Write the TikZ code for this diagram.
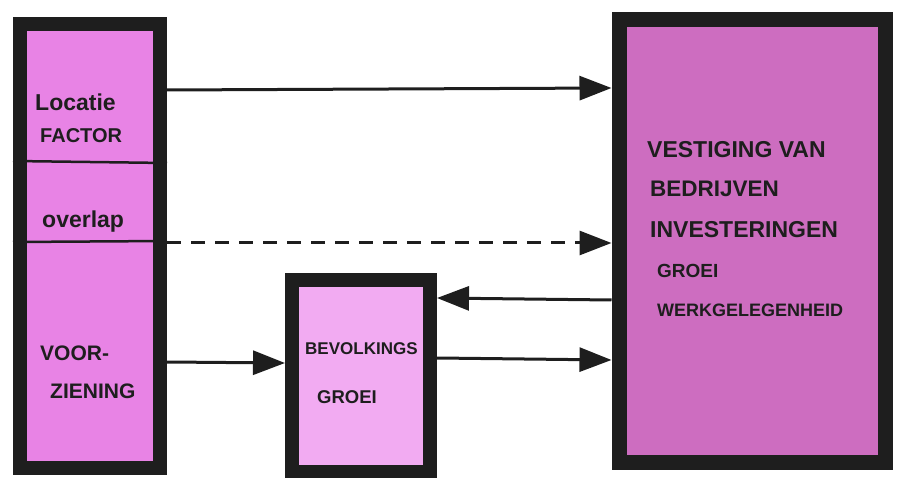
\documentclass[tikz,border=0pt]{standalone}
\usepackage{fontspec}
\setmainfont{Liberation Sans}
\usetikzlibrary{arrows.meta}
\definecolor{Ink}{HTML}{1E1E1E}
\definecolor{Orchid}{HTML}{E883E5}
\definecolor{Blush}{HTML}{F2ABF2}
\definecolor{Plum}{HTML}{CD6DC0}

\begin{document}
\begin{tikzpicture}[x=1pt,y=-1pt,
    box/.style={draw=Ink,line width=14pt,inner sep=0pt},
    lbl/.style={anchor=base west,inner sep=0pt,text=Ink,font=\fontsize{#1}{#1}\selectfont\bfseries},
    lbl/.default=22pt,
    sep/.style={draw=Ink,line width=2.5pt},
    arr/.style={-{Triangle[length=32pt,width=24pt]},line width=3pt,Ink}
  ]
    \useasboundingbox (0,0) rectangle (897,478);
    % the three boxes
    \node[box,fill=Orchid,minimum width=140pt,minimum height=444pt] (lbox) at (90,246) {};
    \node[box,fill=Blush,minimum width=138pt,minimum height=192pt] (mbox) at (361,376) {};
    \node[box,line width=15pt,fill=Plum,minimum width=266pt,minimum height=442pt] (rbox) at (752,241) {};
    \draw[sep] (lbox.west |- 0,161) -- (lbox.east |- 0,163);
    \draw[sep] (lbox.west |- 0,242) -- (lbox.east |- 0,241);
    % left box
    \node[lbl=23pt] (loc) at (35,111) {Locatie};
    \node[lbl=20pt] (fac) at (40,143) {FACTOR};
    \node[lbl=23pt] (ovl) at (42,228) {overlap};
    \node[lbl=21pt] (voo) at (40,360) {VOOR-};
    \node[lbl=21pt] (zie) at (50,398) {ZIENING};
    % middle box
    \node[lbl=17pt] (bev) at (305,355) {BEVOLKINGS};
    \node[lbl=18.5pt] (gro) at (317,403) {GROEI};
    % right box
    \node[lbl=23pt] (ves) at (647,158) {VESTIGING VAN};
    \node[lbl=22.5pt] (bed) at (650,197) {BEDRIJVEN};
    \node[lbl=23pt] (inv) at (650,238) {INVESTERINGEN};
    \node[lbl=19pt] (grw) at (657,278) {GROEI};
    \node[lbl=18pt] (wer) at (657,317) {WERKGELEGENHEID};
    % connectors
    \draw[arr] (lbox.east |- 0,90) -- (rbox.west |- 0,88);
    \draw[arr,dash pattern=on 14pt off 10pt] (lbox.east |- 0,243) -- (rbox.west |- 0,243);
    \draw[arr] (rbox.west |- 0,300) -- (mbox.east |- 0,298);
    \draw[arr] (mbox.east |- 0,358) -- (rbox.west |- 0,360);
    \draw[arr] (lbox.east |- 0,362) -- (mbox.west |- 0,363);
\end{tikzpicture}
\end{document}
